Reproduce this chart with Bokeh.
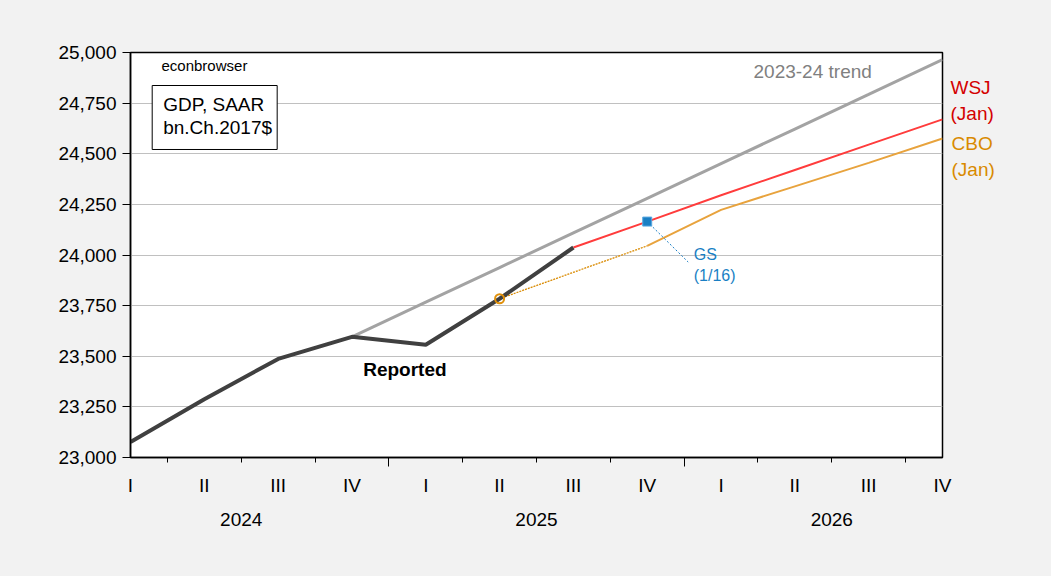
from bokeh.plotting import figure
from bokeh.models import (Range1d, LinearAxis, FixedTicker, NumeralTickFormatter,
                          Label, BoxAnnotation, ColumnDataSource)
from bokeh.embed import file_html
from bokeh.resources import INLINE

# ---------------- data ----------------
quarter_labels = ["I", "II", "III", "IV"] * 3
years = ["2024", "2025", "2026"]
qx = list(range(12))  # 2024Q1 .. 2026Q4

reported_x = [0, 1, 2, 3, 4, 5, 6]
reported_y = [23076, 23288, 23487, 23596, 23557, 23784, 24037]

trend_x = [3, 4, 5, 6, 7, 8, 9, 10, 11]
trend_y = [23596, 23767, 23938, 24109, 24280, 24451, 24622, 24793, 24965]

wsj_x = [6, 7, 8, 9, 10, 11]
wsj_y = [24037, 24165, 24295, 24420, 24545, 24670]

cbo_link_x = [5, 7]
cbo_link_y = [23784, 24045]
cbo_x = [7, 8, 9, 10, 11]
cbo_y = [24045, 24223, 24339, 24455, 24575]

gs_x = [7]
gs_y = [24165]

# right-margin series names (two lines each)
wsj_name = ["WSJ", "(Jan)"]
cbo_name = ["CBO", "(Jan)"]

FONT = "Liberation Sans"
BG = "#f2f2f2"

p = figure(width=1051, height=576, output_backend="svg", toolbar_location=None,
           x_axis_type=None, x_range=Range1d(0, 11), y_range=Range1d(23000, 25000),
           min_border_left=130, min_border_right=109, min_border_top=52, min_border_bottom=119)
p.border_fill_color = BG
p.background_fill_color = "white"
p.outline_line_color = "black"
p.outline_line_width = 1.5
p.xgrid.visible = False
p.ygrid.grid_line_color = "#c0c0c0"
p.ygrid.grid_line_width = 1

# y axis
ya = p.yaxis[0]
ya.ticker = FixedTicker(ticks=list(range(23000, 25001, 250)))
ya.formatter = NumeralTickFormatter(format="0,0")
ya.major_tick_in = 0
ya.major_tick_out = 8
ya.minor_tick_line_color = None
ya.major_label_standoff = 6
ya.major_label_text_font = FONT
ya.major_label_text_font_size = "19px"
ya.major_label_text_color = "black"
ya.axis_line_color = "black"
ya.axis_line_width = 1.5

# x axes: tick marks, quarter labels, year labels
ax_ticks = LinearAxis(ticker=FixedTicker(ticks=[3.5, 7.5],
                                         minor_ticks=[0.5, 1.5, 2.5, 4.5, 5.5, 6.5, 8.5, 9.5, 10.5]),
                      major_tick_in=0, major_tick_out=9, minor_tick_in=0, minor_tick_out=5,
                      major_label_overrides={3.5: "", 7.5: ""},
                      major_label_text_font_size="1px", major_label_standoff=0,
                      axis_line_color="black", axis_line_width=1.5)
p.add_layout(ax_ticks, "below")

ax_q = LinearAxis(ticker=FixedTicker(ticks=qx, minor_ticks=[]),
                  major_label_overrides={i: quarter_labels[i] for i in qx},
                  axis_line_color=None, major_tick_line_color=None, minor_tick_line_color=None,
                  major_label_standoff=2, major_label_text_font=FONT,
                  major_label_text_font_size="19px", major_label_text_color="black")
p.add_layout(ax_q, "below")

ax_y = LinearAxis(ticker=FixedTicker(ticks=[1.5, 5.5, 9.5], minor_ticks=[]),
                  major_label_overrides={1.5: years[0], 5.5: years[1], 9.5: years[2]},
                  axis_line_color=None, major_tick_line_color=None, minor_tick_line_color=None,
                  major_label_standoff=8, major_label_text_font=FONT,
                  major_label_text_font_size="19px", major_label_text_color="black")
p.add_layout(ax_y, "below")

# right-margin names via label-only axes
wsj_ticks = [24827, 24699]
cbo_ticks = [24551, 24422]
ax_wsj = LinearAxis(ticker=FixedTicker(ticks=wsj_ticks, minor_ticks=[]),
                    major_label_overrides={wsj_ticks[i]: wsj_name[i] for i in range(2)},
                    axis_line_color=None, major_tick_line_color=None, minor_tick_line_color=None,
                    major_tick_out=0, major_tick_in=0,
                    major_label_standoff=8, major_label_text_font=FONT,
                    major_label_text_font_size="19px", major_label_text_color="#d40000")
p.add_layout(ax_wsj, "right")
ax_cbo = LinearAxis(ticker=FixedTicker(ticks=cbo_ticks, minor_ticks=[]),
                    major_label_overrides={cbo_ticks[i]: cbo_name[i] for i in range(2)},
                    axis_line_color=None, major_tick_line_color=None, minor_tick_line_color=None,
                    major_tick_out=0, major_tick_in=0,
                    major_label_standoff=-45, major_label_text_font=FONT,
                    major_label_text_font_size="19px", major_label_text_color="#d98a00")
p.add_layout(ax_cbo, "right")

# ---------------- series ----------------
p.line(trend_x, trend_y, line_color="#a3a3a3", line_width=3)
p.line(cbo_link_x, cbo_link_y, line_color="#d98a00", line_width=1.3, line_dash="2 1")
p.line(cbo_x, cbo_y, line_color="#e8a33d", line_width=2)
p.line(wsj_x, wsj_y, line_color="#ff3c3c", line_width=2)
p.line(reported_x, reported_y, line_color="#404040", line_width=4)
p.scatter([cbo_link_x[0]], [cbo_link_y[0]], marker="circle", size=9,
          fill_color=None, line_color="#e0900a", line_width=2)

# GS leader line and marker
gs_src = ColumnDataSource(dict(x0=gs_x, y0=gs_y, x1=[gs_x[0] + 0.555], y1=[gs_y[0] - 200]))
p.segment("x0", "y0", "x1", "y1", source=gs_src, line_color="#1a7fc4", line_width=1, line_dash="2 2")
p.scatter(gs_x, gs_y, marker="square", size=9, fill_color="#1a7fc4", line_color="#5aa8e0", line_width=1)

# ---------------- annotations ----------------
DY = 39.5  # text baseline correction (data units)

def lab(x, y, t, color="black", size="19px", style="normal"):
    p.add_layout(Label(x=x, y=y + DY, text=t, text_font=FONT, text_font_size=size,
                       text_color=color, text_font_style=style, text_baseline="alphabetic",
                       text_align="left"))

p.add_layout(BoxAnnotation(left=0.294, right=1.987, top=24837, bottom=24521,
                           fill_color="white", fill_alpha=1, line_color="black",
                           line_alpha=1, line_width=1))
lab(0.42, 24898, "econbrowser", size="15px")
lab(0.443, 24705, "GDP, SAAR")
lab(0.443, 24590, "bn.Ch.2017$")
lab(8.44, 24865, "2023-24 trend", color="#808080", size="19px")
lab(3.152, 23397, "Reported", style="bold")
lab(7.63, 23964, "GS", color="#1a7fc4", size="16px")
lab(7.63, 23859, "(1/16)", color="#1a7fc4", size="16px")

html = file_html(p, INLINE)
html = html.replace("<head>", "<head><style>html,body{background:#f2f2f2;}</style>", 1)
open("out.html", "w").write(html)
